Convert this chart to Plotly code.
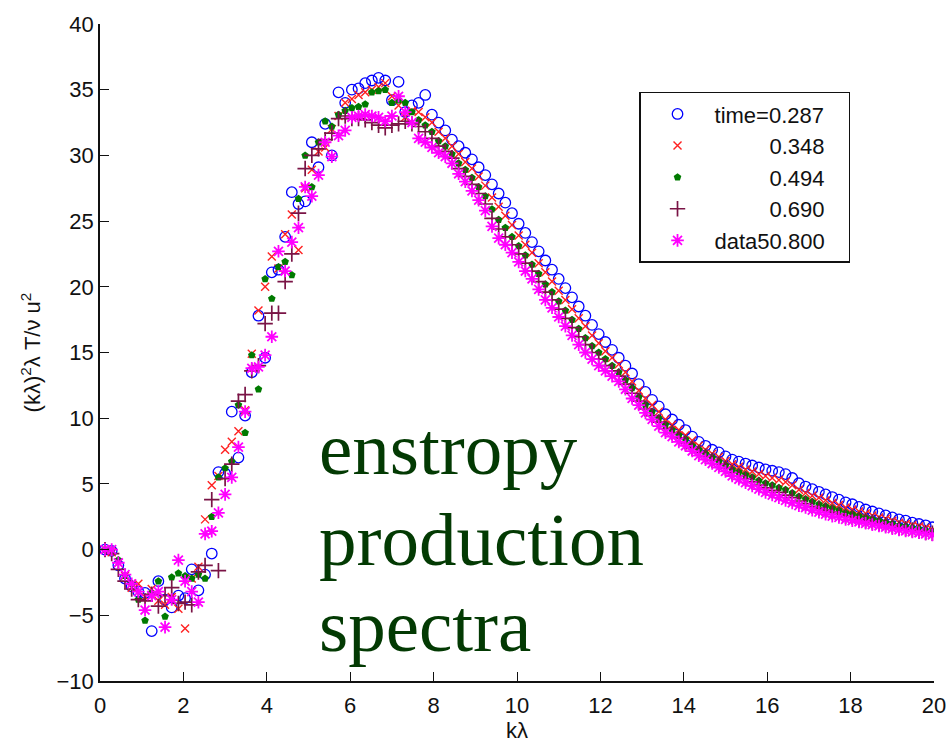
import plotly.graph_objects as go

k = [0.12, 0.28, 0.44, 0.60, 0.76, 0.92, 1.08, 1.24, 1.40, 1.56,
     1.72, 1.88, 2.04, 2.20, 2.36, 2.52, 2.68, 2.84, 3.00, 3.16,
     3.32, 3.48, 3.64, 3.80, 3.96, 4.12, 4.28, 4.44, 4.60, 4.76,
     4.92, 5.08, 5.24, 5.40, 5.56, 5.72, 5.88, 6.04, 6.20, 6.36,
     6.52, 6.68, 6.84, 7.00, 7.16, 7.32, 7.48, 7.64, 7.80, 7.96,
     8.12, 8.28, 8.44, 8.60, 8.76, 8.92, 9.08, 9.24, 9.40, 9.56,
     9.72, 9.88, 10.04, 10.20, 10.36, 10.52, 10.68, 10.84, 11.00, 11.16,
     11.32, 11.48, 11.64, 11.80, 11.96, 12.12, 12.28, 12.44, 12.60, 12.76,
     12.92, 13.08, 13.24, 13.40, 13.56, 13.72, 13.88, 14.04, 14.20, 14.36,
     14.52, 14.68, 14.84, 15.00, 15.16, 15.32, 15.48, 15.64, 15.80, 15.96,
     16.12, 16.28, 16.44, 16.60, 16.76, 16.92, 17.08, 17.24, 17.40, 17.56,
     17.72, 17.88, 18.04, 18.20, 18.36, 18.52, 18.68, 18.84, 19.00, 19.16,
     19.32, 19.48, 19.64, 19.80, 19.96]

t0287 = [0.0, -0.1, -1.2, -2.2, -2.8, -3.2, -3.3, -6.2, -2.4, -3.8,
         -4.4, -3.5, -3.7, -1.5, -3.1, -1.9, -0.3, 5.9, 5.8, 10.5,
         7.0, 10.2, 13.5, 17.8, 14.6, 21.1, 21.3, 23.8, 27.2, 26.3,
         26.5, 31.0, 29.1, 32.4, 30.0, 34.8, 34.0, 35.0, 35.1, 35.5,
         35.7, 35.9, 35.7, 34.2, 35.6, 33.3, 33.8, 34.0, 34.6, 33.1,
         32.5, 31.9, 31.2, 30.7, 30.2, 29.7, 29.1, 28.5, 27.8, 27.1,
         26.4, 25.6, 24.8, 24.1, 23.4, 22.7, 22.0, 21.3, 20.6, 19.9,
         19.2, 18.5, 17.8, 17.1, 16.4, 15.8, 15.2, 14.6, 14.0, 13.4,
         12.6, 12.0, 11.4, 10.9, 10.3, 9.9, 9.5, 9.1, 8.6, 8.2,
         7.9, 7.6, 7.4, 7.1, 6.85, 6.7, 6.55, 6.4, 6.25, 6.1,
         6.0, 5.9, 5.75, 5.45, 5.05, 4.8, 4.6, 4.4, 4.2, 4.0,
         3.8, 3.6, 3.45, 3.25, 3.05, 2.9, 2.75, 2.6, 2.45, 2.3,
         2.2, 2.05, 1.95, 1.85, 1.7]

t0348 = [0.0, -0.2, -1.0, -2.0, -2.9, -2.6, -3.6, -3.0, -3.9, -4.2,
         -3.6, -4.5, -6.0, -2.2, -1.3, 2.3, 4.9, 5.6, 7.6, 8.2,
         9.0, 10.6, 14.9, 18.2, 20.0, 22.3, 21.4, 24.0, 25.5, 22.8,
         27.5, 28.9, 30.3, 30.6, 32.0, 33.0, 34.0, 34.3, 34.6, 34.8,
         35.0, 35.2, 35.5, 34.5, 33.8, 32.9, 33.4, 33.3, 32.9, 32.5,
         31.8, 31.3, 30.7, 30.1, 29.5, 29.0, 28.4, 27.7, 26.8, 26.1,
         25.4, 24.7, 23.9, 23.2, 22.6, 21.8, 21.1, 20.4, 19.7, 19.0,
         18.3, 17.6, 17.0, 16.3, 15.7, 15.1, 14.6, 14.1, 13.5, 12.8,
         12.1, 11.5, 11.0, 10.5, 9.9, 9.5, 9.1, 8.7, 8.3, 7.9,
         7.6, 7.3, 7.05, 6.75, 6.5, 6.3, 6.1, 5.95, 5.75, 5.6,
         5.45, 5.3, 5.15, 4.9, 4.55, 4.3, 4.1, 3.95, 3.75, 3.55,
         3.4, 3.2, 3.05, 2.9, 2.75, 2.6, 2.45, 2.35, 2.2, 2.05,
         1.95, 1.85, 1.75, 1.65, 1.5]

t0494 = [0.0, -0.1, -0.8, -2.0, -2.6, -3.8, -5.4, -3.3, -2.4, -5.1,
         -2.1, -1.8, -2.0, -2.2, -1.9, -2.2, 2.5, 5.5, 6.2, 6.7,
         11.0, 8.9, 14.8, 12.2, 20.6, 19.1, 21.5, 21.9, 20.9, 26.7,
         30.0, 27.6, 31.0, 32.6, 32.2, 33.1, 33.4, 33.6, 33.7, 33.9,
         34.8, 34.9, 35.0, 34.0, 34.2, 34.0, 33.3, 32.7, 32.3, 31.8,
         31.1, 30.7, 30.1, 29.4, 28.9, 28.3, 27.6, 26.9, 25.9, 25.1,
         24.5, 23.8, 23.1, 22.4, 21.7, 21.0, 20.2, 19.6, 18.9, 18.2,
         17.5, 16.8, 16.1, 15.5, 15.0, 14.5, 14.0, 13.5, 12.9, 12.3,
         11.6, 11.0, 10.5, 10.0, 9.5, 9.1, 8.7, 8.4, 7.9, 7.6,
         7.3, 7.0, 6.7, 6.4, 6.1, 5.9, 5.7, 5.5, 5.25, 5.05,
         4.9, 4.7, 4.55, 4.3, 4.05, 3.85, 3.65, 3.45, 3.3, 3.15,
         3.0, 2.8, 2.7, 2.55, 2.4, 2.3, 2.2, 2.05, 1.95, 1.8,
         1.75, 1.65, 1.55, 1.45, 1.35]

t0690 = [0.0, -0.3, -1.5, -2.4, -3.0, -3.8, -3.9, -3.4, -4.3, -3.5,
         -2.9, -4.1, -4.0, -4.2, -1.7, -1.2, 3.8, -1.6, 5.4, 6.5,
         11.3, 11.8, 13.6, 14.0, 17.2, 18.0, 18.0, 20.4, 22.5, 25.6,
         29.0, 30.0, 30.5, 31.2, 31.7, 32.8, 33.0, 32.8, 32.8, 32.7,
         32.5, 32.3, 32.1, 32.3, 32.4, 32.6, 32.4, 32.2, 31.8, 31.3,
         30.7, 30.3, 29.8, 29.0, 28.4, 27.8, 27.1, 26.3, 25.2, 24.4,
         23.8, 23.2, 22.5, 21.8, 21.2, 20.4, 19.6, 19.0, 18.3, 17.6,
         16.9, 16.2, 15.6, 15.0, 14.5, 14.0, 13.6, 13.2, 12.6, 11.9,
         11.3, 10.7, 10.2, 9.7, 9.2, 8.9, 8.5, 8.1, 7.7, 7.4,
         7.1, 6.8, 6.5, 6.2, 5.85, 5.6, 5.4, 5.15, 4.9, 4.7,
         4.5, 4.35, 4.15, 3.95, 3.7, 3.5, 3.3, 3.15, 3.0, 2.85,
         2.7, 2.55, 2.45, 2.3, 2.2, 2.1, 2.0, 1.9, 1.8, 1.65,
         1.6, 1.5, 1.4, 1.3, 1.25]

t0800 = [0.0, 0.0, -1.0, -1.9, -2.6, -3.2, -4.6, -3.5, -3.2, -5.9,
         -3.8, -0.8, -2.4, -3.2, -4.0, 1.2, 1.4, 2.8, 4.2, 5.5,
         7.8, 10.5, 13.8, 13.9, 14.8, 16.2, 22.7, 21.2, 23.4, 24.5,
         27.6, 26.9, 28.5, 31.0, 29.9, 31.5, 31.9, 32.9, 33.0, 33.1,
         33.0, 32.9, 32.6, 33.0, 34.5, 33.3, 32.5, 31.3, 31.0, 30.6,
         30.2, 29.9, 29.4, 28.6, 28.0, 27.3, 26.6, 25.8, 24.6, 23.7,
         23.2, 22.6, 21.9, 21.2, 20.6, 19.8, 19.0, 18.4, 17.7, 17.0,
         16.3, 15.6, 15.0, 14.5, 14.0, 13.6, 13.2, 12.8, 12.2, 11.5,
         11.0, 10.4, 9.9, 9.4, 8.9, 8.6, 8.2, 7.9, 7.5, 7.15,
         6.85, 6.55, 6.25, 5.95, 5.6, 5.35, 5.1, 4.85, 4.6, 4.35,
         4.15, 3.95, 3.75, 3.55, 3.35, 3.2, 3.0, 2.85, 2.7, 2.55,
         2.45, 2.3, 2.2, 2.1, 2.0, 1.9, 1.8, 1.7, 1.6, 1.5,
         1.42, 1.35, 1.28, 1.2, 1.12]

NB = "\u00a0"
names = ["time=0.287" + NB * 3, NB * 9 + "0.348" + NB * 3, NB * 9 + "0.494" + NB * 3,
         NB * 9 + "0.690" + NB * 3, "data50.800" + NB * 3]
series = [t0287, t0348, t0494, t0690, t0800]
styles = [
    dict(symbol="circle-open", size=10.5, color="#0000ff", line=dict(width=1.3, color="#0000ff")),
    dict(symbol="x-thin-open", size=8, color="#ff2020", line=dict(width=1.4, color="#ff2020")),
    dict(symbol="pentagon", size=8, color="#007a00", line=dict(width=0, color="#007a00")),
    dict(symbol="cross-thin-open", size=11, color="#7a1446", line=dict(width=1.7, color="#7a1446")),
    dict(symbol="asterisk-open", size=10.5, color="#ff00ff", line=dict(width=1.8, color="#ff00ff")),
]

fig = go.Figure()
for i, (nm, ys, st) in enumerate(zip(names, series, styles)):
    fig.add_trace(go.Scatter(x=k, y=ys, mode="markers", name=nm, marker=st,
                             legendgroup="g%d" % i))

font_tick = dict(family="Liberation Sans, Arial, sans-serif", size=22, color="#111111")
font_ytitle = dict(family="Liberation Sans, Arial, sans-serif", size=22, color="#111111")

for txt, yv in [("enstropy", 7.7), ("production", 0.8), ("spectra", -5.75)]:
    fig.add_annotation(x=5.2, y=yv, xref="x", yref="y", text=txt, showarrow=False,
                       xanchor="left", yanchor="middle",
                       font=dict(family="Liberation Serif, Times New Roman, serif",
                                 size=75, color="#033a03"))

fig.update_layout(
    width=948, height=751,
    margin=dict(l=100, r=14, t=24, b=70),
    paper_bgcolor="white", plot_bgcolor="white",
    showlegend=True,
    legend=dict(x=0.6463, y=0.897, xanchor="left", yanchor="top",
                bgcolor="white", bordercolor="#111111", borderwidth=1.5,
                font=dict(family="Liberation Sans, Arial, sans-serif", size=22, color="#111111"),
                itemwidth=64, tracegroupgap=0, traceorder="grouped"),
    xaxis=dict(range=[0, 20], tickmode="array", tickvals=[0, 2, 4, 6, 8, 10, 12, 14, 16, 18, 20],
               ticks="inside", ticklen=9, tickwidth=1.3, tickcolor="#111111",
               showline=True, linecolor="#111111", linewidth=1.5, mirror=False, automargin=False,
               showgrid=False, zeroline=False, tickfont=font_tick, ticklabelstandoff=4,
               title=dict(text="k\u03bb", font=font_tick, standoff=4)),
    yaxis=dict(range=[-10, 40], tickmode="array", tickvals=[-10, -5, 0, 5, 10, 15, 20, 25, 30, 35, 40],
               ticks="inside", ticklen=9, tickwidth=1.3, tickcolor="#111111",
               showline=True, linecolor="#111111", linewidth=1.5, mirror=False, automargin=False,
               showgrid=False, zeroline=False, tickfont=font_tick, ticklabelstandoff=0,
               title=dict(text="(k\u03bb)<sup>2</sup>\u03bb T/\u03bd u<sup>2</sup>", font=font_ytitle, standoff=10)),
)

fig.write_html("out.html")
